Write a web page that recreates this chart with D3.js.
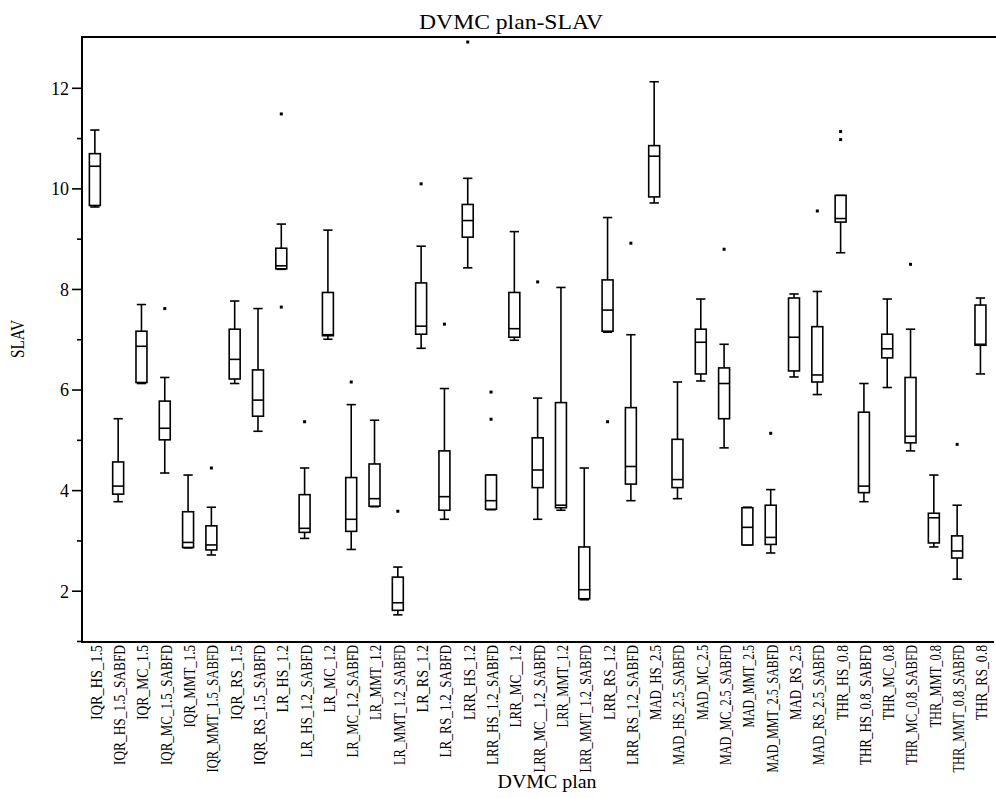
<!DOCTYPE html>
<html>
<head>
<meta charset="utf-8">
<script src="https://cdn.jsdelivr.net/npm/d3@7"></script>
<style>
  body { margin: 0; background: #fff; }
  svg { display: block; }
  text { font-family: "Liberation Serif", "DejaVu Serif", serif; fill: #000; }
</style>
</head>
<body>
<svg id="chart"></svg>
<script>
// categories on the x axis
let plans = [
    "IQR_HS_1.5", "IQR_HS_1.5_SABFD", "IQR_MC_1.5", "IQR_MC_1.5_SABFD",
    "IQR_MMT_1.5", "IQR_MMT_1.5_SABFD", "IQR_RS_1.5", "IQR_RS_1.5_SABFD",
    "LR_HS_1.2", "LR_HS_1.2_SABFD", "LR_MC_1.2", "LR_MC_1.2_SABFD",
    "LR_MMT_1.2", "LR_MMT_1.2_SABFD", "LR_RS_1.2", "LR_RS_1.2_SABFD",
    "LRR_HS_1.2", "LRR_HS_1.2_SABFD", "LRR_MC__1.2", "LRR_MC__1.2_SABFD",
    "LRR_MMT_1.2", "LRR_MMT_1.2_SABFD", "LRR_RS_1.2", "LRR_RS_1.2_SABFD",
    "MAD_HS_2.5", "MAD_HS_2.5_SABFD", "MAD_MC_2.5", "MAD_MC_2.5_SABFD",
    "MAD_MMT_2.5", "MAD_MMT_2.5_SABFD", "MAD_RS_2.5", "MAD_RS_2.5_SABFD",
    "THR_HS_0.8", "THR_HS_0.8_SABFD", "THR_MC_0.8", "THR_MC_0.8_SABFD",
    "THR_MMT_0.8", "THR_MMT_0.8_SABFD", "THR_RS_0.8"
];

// box plot statistics (SLAV)
let whiskerLow = [9.64, 3.78, 6.13, 4.35, 2.86, 2.72, 6.13, 5.18, 8.40, 3.05,
    7.01, 2.83, 3.68, 1.53, 6.83, 3.43, 8.43, 3.62, 6.99, 3.43,
    3.61, 1.83, 7.15, 3.80, 9.72, 3.84, 6.18, 4.85, 2.92, 2.76,
    6.26, 5.91, 8.73, 3.78, 6.05, 4.79, 2.88, 2.24, 6.32];
let q1 = [9.67, 3.93, 6.15, 5.01, 2.87, 2.82, 6.22, 5.48, 8.41, 3.17,
    7.08, 3.19, 3.69, 1.62, 7.11, 3.61, 9.04, 3.63, 7.05, 4.06,
    3.66, 1.85, 7.17, 4.13, 9.84, 4.06, 6.32, 5.43, 2.92, 2.93,
    6.38, 6.16, 9.34, 3.96, 6.64, 4.95, 2.96, 2.66, 6.89];
let median = [10.45, 4.09, 6.87, 5.24, 2.97, 2.92, 6.61, 5.80, 8.47, 3.25,
    7.10, 3.43, 3.84, 1.77, 7.27, 3.88, 9.37, 3.80, 7.22, 4.41,
    3.71, 2.03, 7.59, 4.48, 10.65, 4.22, 6.95, 6.13, 3.27, 3.07,
    7.05, 6.30, 9.41, 4.09, 6.82, 5.08, 3.46, 2.80, 6.91];
let q3 = [10.70, 4.57, 7.17, 5.78, 3.58, 3.30, 7.21, 6.40, 8.82, 3.92,
    7.94, 4.26, 4.53, 2.28, 8.13, 4.79, 9.69, 4.31, 7.94, 5.05,
    5.75, 2.88, 8.19, 5.65, 10.86, 5.02, 7.21, 6.44, 3.66, 3.71,
    7.83, 7.26, 9.87, 5.56, 7.11, 6.25, 3.55, 3.10, 7.69];
let whiskerHigh = [11.17, 5.43, 7.70, 6.25, 4.31, 3.67, 7.77, 7.62, 9.30, 4.45,
    9.18, 5.71, 5.40, 2.48, 8.86, 6.03, 10.21, 4.31, 9.15, 5.84,
    8.04, 4.45, 9.43, 7.10, 12.13, 6.16, 7.81, 6.91, 3.67, 4.02,
    7.91, 7.96, 9.87, 6.13, 7.81, 7.21, 4.31, 3.71, 7.83];
let outliers = [[], [], [], [7.62], [], [4.45], [], [], [11.49, 7.65], [5.37],
    [], [6.16], [], [3.59], [10.10], [7.31], [12.92], [5.96, 5.42], [], [8.15],
    [], [], [5.37], [8.92], [], [], [], [8.80], [], [5.14],
    [], [9.56], [11.14, 10.98], [], [], [8.50], [], [4.92], []];

let majorTicks = [2, 4, 6, 8, 10, 12];
let minorTicks = [1, 3, 5, 7, 9, 11];

let chartTitle = "DVMC plan-SLAV";
let xTitle = "DVMC plan";
let yTitle = "SLAV";

let width = 996;
let height = 798;
let plotLeft = 82, plotRight = 994, plotTop = 37, plotBottom = 642;

let svg = d3.select("#chart")
    .attr("width", width)
    .attr("height", height);

let x = d3.scaleBand()
    .domain(plans)
    .range([83.2, 992.1]);

let y = d3.scaleLinear()
    .domain([1, 13])
    .range([641.5, 38]);

let boxW = x.bandwidth() * 0.47;
let capW = boxW * 0.85;

let boxes = plans.map(function(p, i) {
    return {
        plan: p, lo: whiskerLow[i], q1: q1[i], med: median[i],
        q3: q3[i], hi: whiskerHigh[i], out: outliers[i]
    };
});

// frame: left axis, top line, bottom axis
svg.append("line")
    .attr("x1", plotLeft).attr("x2", plotLeft)
    .attr("y1", plotTop).attr("y2", plotBottom)
    .attr("stroke", "#000").attr("stroke-width", 2);
svg.append("line")
    .attr("x1", plotLeft - 1).attr("x2", width)
    .attr("y1", plotTop).attr("y2", plotTop)
    .attr("stroke", "#000").attr("stroke-width", 2);
svg.append("line")
    .attr("x1", plotLeft - 1).attr("x2", plotRight)
    .attr("y1", plotBottom).attr("y2", plotBottom)
    .attr("stroke", "#000").attr("stroke-width", 2);

// y axis ticks
svg.selectAll(".major")
    .data(majorTicks)
    .enter()
    .append("line")
    .attr("x1", plotLeft - 10).attr("x2", plotLeft)
    .attr("y1", function(d) { return y(d); })
    .attr("y2", function(d) { return y(d); })
    .attr("stroke", "#000").attr("stroke-width", 1.6);

svg.selectAll(".minor")
    .data(minorTicks)
    .enter()
    .append("line")
    .attr("x1", plotLeft - 5).attr("x2", plotLeft)
    .attr("y1", function(d) { return y(d); })
    .attr("y2", function(d) { return y(d); })
    .attr("stroke", "#000").attr("stroke-width", 1.6);

svg.selectAll(".ylab")
    .data(majorTicks)
    .enter()
    .append("text")
    .text(function(d) { return d; })
    .attr("x", plotLeft - 13)
    .attr("y", function(d) { return y(d); })
    .attr("dy", "0.35em")
    .attr("text-anchor", "end")
    .attr("font-size", "18px");

// x labels, rotated, condensed like the original font
svg.selectAll(".xlab")
    .data(plans)
    .enter()
    .append("text")
    .text(function(d) { return d; })
    .attr("transform", function(d) {
        return "translate(" + (x(d) + x.bandwidth() / 2 + 1.2) + "," + (plotBottom + 3) + ") rotate(-90)";
    })
    .attr("dy", "0.36em")
    .attr("text-anchor", "end")
    .attr("font-size", "16px")
    .attr("textLength", function(d) { return d.length * 7.5; })
    .attr("lengthAdjust", "spacingAndGlyphs");

// whiskers
let g = svg.selectAll(".box")
    .data(boxes)
    .enter()
    .append("g")
    .attr("transform", function(d) {
        return "translate(" + (x(d.plan) + x.bandwidth() / 2) + ",0)";
    });

g.append("line")
    .attr("x1", 0).attr("x2", 0)
    .attr("y1", function(d) { return y(d.hi); })
    .attr("y2", function(d) { return y(d.q3); })
    .attr("stroke", "#000").attr("stroke-width", 1.6);
g.append("line")
    .attr("x1", 0).attr("x2", 0)
    .attr("y1", function(d) { return y(d.q1); })
    .attr("y2", function(d) { return y(d.lo); })
    .attr("stroke", "#000").attr("stroke-width", 1.6);
g.append("line")
    .attr("x1", -capW / 2).attr("x2", capW / 2)
    .attr("y1", function(d) { return y(d.hi); })
    .attr("y2", function(d) { return y(d.hi); })
    .attr("stroke", "#000").attr("stroke-width", 1.6);
g.append("line")
    .attr("x1", -capW / 2).attr("x2", capW / 2)
    .attr("y1", function(d) { return y(d.lo); })
    .attr("y2", function(d) { return y(d.lo); })
    .attr("stroke", "#000").attr("stroke-width", 1.6);

// boxes
g.append("rect")
    .attr("x", -boxW / 2)
    .attr("width", boxW)
    .attr("y", function(d) { return y(d.q3); })
    .attr("height", function(d) { return y(d.q1) - y(d.q3); })
    .attr("fill", "#fff")
    .attr("stroke", "#000").attr("stroke-width", 1.6);

g.append("line")
    .attr("x1", -boxW / 2).attr("x2", boxW / 2)
    .attr("y1", function(d) { return y(d.med); })
    .attr("y2", function(d) { return y(d.med); })
    .attr("stroke", "#000").attr("stroke-width", 1.6);

// outliers
g.selectAll(".out")
    .data(function(d) { return d.out; })
    .enter()
    .append("rect")
    .attr("x", -1.5)
    .attr("y", function(v) { return y(v) - 1.5; })
    .attr("width", 3)
    .attr("height", 3)
    .attr("fill", "#000");

// titles
svg.append("text")
    .text(chartTitle)
    .attr("x", 511)
    .attr("y", 29)
    .attr("text-anchor", "middle")
    .attr("font-size", "22px")
    .attr("textLength", 184)
    .attr("lengthAdjust", "spacingAndGlyphs");

svg.append("text")
    .text(xTitle)
    .attr("x", 547)
    .attr("y", 788)
    .attr("text-anchor", "middle")
    .attr("font-size", "19px")
    .attr("textLength", 99)
    .attr("lengthAdjust", "spacingAndGlyphs");

svg.append("text")
    .text(yTitle)
    .attr("transform", "translate(17.5,339) rotate(-90)")
    .attr("dy", "0.35em")
    .attr("text-anchor", "middle")
    .attr("font-size", "19px")
    .attr("textLength", 38)
    .attr("lengthAdjust", "spacingAndGlyphs");
</script>
</body>
</html>
